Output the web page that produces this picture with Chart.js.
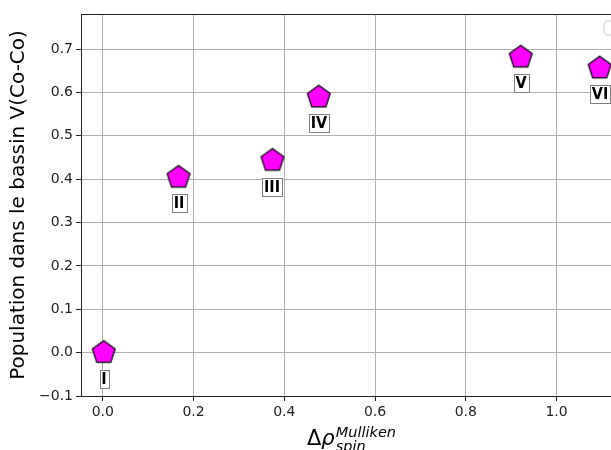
<!DOCTYPE html>
<html>
<head>
<meta charset="utf-8">
<script src="https://cdn.jsdelivr.net/npm/chart.js@4"></script>
<style>
  html, body { margin: 0; padding: 0; background: #fff; overflow: hidden; }
  #wrap { width: 690px; height: 450px; }
</style>
</head>
<body>
<div id="wrap"><canvas id="myChart" width="690" height="450"></canvas></div>
<script>
// points
var spinDiff = [0.002, 0.167, 0.374, 0.476, 0.921, 1.095];
var population = [0.0, 0.404, 0.443, 0.589, 0.681, 0.656];
var pointNames = ["I", "II", "III", "IV", "V", "VI"];

// tick labels
var xTicks = [0.0, 0.2, 0.4, 0.6, 0.8, 1.0, 1.2];
var yTicks = [-0.1, 0.0, 0.1, 0.2, 0.3, 0.4, 0.5, 0.6, 0.7];

// pentagon marker, drawn once on a small canvas
function makePentagon(r) {
  var c = document.createElement("canvas");
  var s = Math.ceil(r * 2 + 4);
  c.width = s; c.height = s;
  var g = c.getContext("2d");
  g.beginPath();
  for (var i = 0; i < 5; i++) {
    var a = -Math.PI / 2 + i * 2 * Math.PI / 5;
    var px = s / 2 + r * Math.cos(a), py = s / 2 + r * Math.sin(a);
    if (i == 0) g.moveTo(px, py); else g.lineTo(px, py);
  }
  g.closePath();
  g.fillStyle = "#ff00ff";
  g.fill();
  g.lineWidth = 1.2;
  g.strokeStyle = "#000";
  g.lineJoin = "miter";
  g.stroke();
  return c;
}
var pentagon = makePentagon(12);

var points = spinDiff.map(function (x, i) { return { x: x, y: population[i] }; });

// boxes with the roman numerals, the top spine, the faint legend frame and the math x label
var extras = {
  id: "extras",
  afterDatasetsDraw: function (chart) {
    var ctx = chart.ctx;
    var area = chart.chartArea;
    var meta = chart.getDatasetMeta(0);
    ctx.save();
    ctx.font = "bold 16px 'DejaVu Sans Condensed', 'DejaVu Sans'";
    ctx.textAlign = "center";
    ctx.textBaseline = "middle";
    meta.data.forEach(function (pt, i) {
      var txt = pointNames[i];
      var w = Math.round(ctx.measureText(txt).width + 4);
      var h = 18;
      var cx = Math.round(pt.x), cy = Math.round(pt.y + 26);
      ctx.fillStyle = "#fff";
      ctx.fillRect(cx - w / 2, cy - h / 2, w, h);
      ctx.strokeStyle = "#7f7f7f";
      ctx.lineWidth = 1;
      ctx.strokeRect(Math.round(cx - w / 2) + 0.5, cy - h / 2 + 0.5, w, h);
      ctx.fillStyle = "#000";
      ctx.fillText(txt, cx, cy + 1);
    });

    // top and right spines
    ctx.strokeStyle = "#222";
    ctx.lineWidth = 1;
    ctx.beginPath();
    ctx.moveTo(area.left, area.top + 0.5);
    ctx.lineTo(area.right, area.top + 0.5);
    ctx.lineTo(area.right, area.bottom);
    ctx.stroke();

    // legend frame, mostly out of view
    ctx.strokeStyle = "#dcdcdc";
    ctx.lineWidth = 1.5;
    ctx.beginPath();
    ctx.roundRect(area.left + 523, area.top + 7, 80, 14, 4);
    ctx.stroke();

    // x axis label: Δρ with Mulliken above and spin below
    var bx = 307, by = 445;
    ctx.textAlign = "left";
    ctx.textBaseline = "alphabetic";
    ctx.fillStyle = "#000";
    ctx.font = "21px 'DejaVu Sans'";
    ctx.fillText("Δ", bx, by);
    var dw = ctx.measureText("Δ").width;
    ctx.font = "italic 21px 'DejaVu Sans'";
    ctx.fillText("ρ", bx + dw, by);
    var rw = ctx.measureText("ρ").width;
    ctx.font = "italic 14.5px 'DejaVu Sans'";
    ctx.fillText("Mulliken", bx + dw + rw + 1, by - 8);
    ctx.fillText("spin", bx + dw + rw + 1, by + 6);
    ctx.restore();
  }
};

var ctx = document.getElementById("myChart");
var myChart = new Chart(ctx, {
  type: "scatter",
  data: {
    datasets: [
      {
        data: points,
        pointStyle: pentagon,
        pointRadius: 12,
        pointHoverRadius: 12
      }
    ]
  },
  options: {
    responsive: false,
    animation: false,
    events: [],
    layout: { padding: { top: 14, right: 20, left: 0, bottom: 0 } },
    plugins: {
      legend: { display: false },
      tooltip: { enabled: false }
    },
    scales: {
      x: {
        type: "linear",
        min: -0.048,
        max: 1.25,
        afterBuildTicks: function (s) { s.ticks = xTicks.map(function (v) { return { value: v }; }); },
        afterFit: function (s) { s.height = 54; },
        ticks: {
          font: { family: "DejaVu Sans", size: 14 },
          color: "#222",
          padding: 3,
          maxRotation: 0,
          callback: function (v) { return v.toFixed(1); }
        },
        grid: { color: "#b0b0b0", lineWidth: 1, tickColor: "#222", tickLength: 5 },
        border: { color: "#222", width: 1 }
      },
      y: {
        type: "linear",
        min: -0.1,
        max: 0.781,
        afterBuildTicks: function (s) { s.ticks = yTicks.map(function (v) { return { value: v }; }); },
        afterFit: function (s) { s.width = 81; },
        ticks: {
          font: { family: "DejaVu Sans", size: 14 },
          color: "#222",
          padding: 3,
          callback: function (v) { return v < 0 ? "\u2212" + Math.abs(v).toFixed(1) : v.toFixed(1); }
        },
        grid: { color: "#b0b0b0", lineWidth: 1, tickColor: "#222", tickLength: 5 },
        border: { color: "#222", width: 1 },
        title: {
          display: true,
          text: "Population dans le bassin V(Co-Co)",
          font: { family: "DejaVu Sans", size: 20 },
          color: "#000",
          padding: { top: 7, bottom: 0 }
        }
      }
    }
  },
  plugins: [extras]
});
</script>
</body>
</html>
